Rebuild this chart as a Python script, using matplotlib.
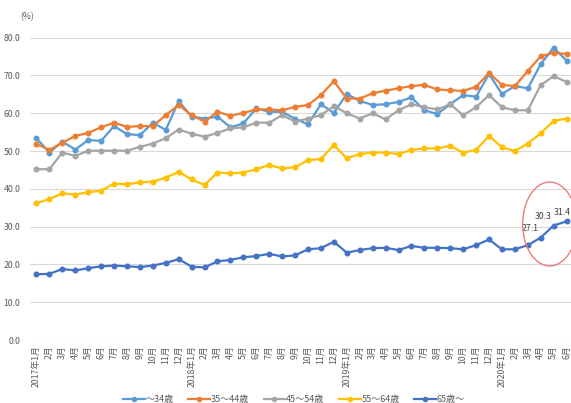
#!/usr/bin/env python3
# age-group rate chart, 2017/1 - 2020/6

import matplotlib
matplotlib.use("Agg")
import matplotlib.pyplot as plt
from matplotlib.patches import Ellipse

plt.rcParams['font.family'] = ['Noto Sans CJK JP', 'DejaVu Sans']

# months 2017年1月 .. 2020年6月
months = []
for i in range(42):
    y, m = 2017 + i // 12, i % 12 + 1
    months.append("{}年{}月".format(y, m) if m == 1 else "{}月".format(m))

names = ["～34歳", "35～44歳", "45～54歳", "55～64歳", "65歳～"]

age_u34 = [53.4, 49.6, 52.5, 50.4, 52.9, 52.7, 56.6, 54.5, 54.2, 57.5, 55.6, 63.2,
           59.1, 58.6, 59.1, 56.3, 57.3, 61.3, 60.4, 60.4, 58.5, 57.1, 62.4, 60.1,
           65.1, 63.3, 62.2, 62.4, 63.0, 64.2, 60.8, 59.8, 62.4, 64.8, 64.4, 70.4,
           65.1, 67.2, 66.6, 73.0, 77.4, 73.9]
age_35_44 = [51.9, 50.3, 52.2, 54.0, 54.8, 56.3, 57.5, 56.4, 56.6, 56.6, 59.5, 62.2,
             59.5, 57.8, 60.4, 59.3, 60.1, 61.0, 61.0, 60.8, 61.7, 62.2, 64.8, 68.5,
             63.9, 63.9, 65.3, 66.0, 66.6, 67.2, 67.5, 66.3, 66.1, 65.9, 67.0, 70.7,
             67.5, 67.2, 71.2, 75.1, 76.0, 75.7]
age_45_54 = [45.2, 45.2, 49.6, 48.7, 50.1, 50.1, 50.1, 50.1, 51.1, 52.0, 53.4, 55.7,
             54.6, 53.8, 54.8, 56.0, 56.3, 57.5, 57.5, 59.5, 57.8, 58.6, 59.5, 61.9,
             60.0, 58.6, 60.0, 58.4, 60.8, 62.4, 61.6, 61.0, 62.4, 59.5, 61.6, 64.8,
             61.6, 60.8, 60.8, 67.5, 69.8, 68.3]
age_55_64 = [36.2, 37.3, 38.8, 38.5, 39.1, 39.5, 41.4, 41.2, 41.7, 41.9, 43.0, 44.5,
             42.5, 41.0, 44.3, 44.1, 44.3, 45.2, 46.3, 45.4, 45.7, 47.6, 47.9, 51.6,
             48.1, 49.2, 49.6, 49.6, 49.2, 50.3, 50.7, 50.7, 51.4, 49.6, 50.3, 54.0,
             51.0, 50.0, 52.0, 54.7, 58.0, 58.6]
age_65p = [17.4, 17.5, 18.8, 18.4, 19.0, 19.5, 19.7, 19.5, 19.3, 19.7, 20.4, 21.4,
           19.4, 19.2, 20.8, 21.2, 21.9, 22.2, 22.8, 22.1, 22.4, 24.0, 24.3, 26.0,
           23.1, 23.8, 24.3, 24.4, 23.8, 24.9, 24.4, 24.4, 24.3, 24.0, 25.1, 26.6,
           24.0, 24.0, 25.1, 27.1, 30.3, 31.4]

colors = ["#5B9BD5", "#ED7D31", "#A5A5A5", "#FFC000", "#4472C4"]
series = [age_u34, age_35_44, age_45_54, age_55_64, age_65p]

fig = plt.figure(figsize=(5.71, 4.03), dpi=100)
ax = fig.add_axes([30 / 571, 63 / 403, 541 / 571, (340 - 37.7) / 403])

x = list(range(len(months)))
for vals, c, n in zip(series, colors, names):
    ax.plot(x, vals, color=c, lw=1.6, marker="o", ms=3.3, label=n,
            solid_joinstyle="round", zorder=3)

# labels on the last three 65歳～ points (last one kept inside the edge)
for i in range(39, 42):
    if i < 41:
        ax.text(x[i] - 0.15, age_65p[i] + 1.2, "{:.1f}".format(age_65p[i]),
                ha="right", va="bottom", fontsize=6.3, color="#404040", zorder=4)
    else:
        ax.annotate("{:.1f}".format(age_65p[i]), (x[i], age_65p[i] + 1.2),
                    xytext=(1.0, 0), textcoords=("axes fraction", "offset points"),
                    ha="right", va="bottom", fontsize=6.3, color="#404040",
                    zorder=4)

ax.add_patch(Ellipse((39.7, 30.7), 4.2, 22.2, fill=False, ec="#EE7B7B",
                     lw=1.0, zorder=5, clip_on=False))

ax.set_xlim(-0.5, -0.5 + 541 / 12.93)
ax.set_ylim(0, 80)
ax.set_yticks(range(0, 81, 10))
ax.set_yticklabels(["{:.1f}".format(v) for v in range(0, 81, 10)])
ax.set_xticks(x)
ax.set_xticklabels(months, rotation=90, va="top", ha="center")
ax.tick_params(axis="both", length=0, labelsize=6.3, labelcolor="#595959")
ax.tick_params(axis="y", pad=7)
ax.tick_params(axis="x", pad=4)
ax.grid(axis="y", color="#D9D9D9", lw=0.8)
ax.set_axisbelow(True)
for s in ax.spines.values():
    s.set_visible(False)

fig.text(20 / 571, 1 - 17 / 403, "(%)", fontsize=6.2, color="#595959",
         va="center")

fig.legend(loc="lower center", bbox_to_anchor=(0.515, -0.022), ncol=5,
           frameon=False, fontsize=6.5, labelcolor="#595959",
           handlelength=2.4, columnspacing=1.6, handletextpad=0.1,
           markerscale=0.9)

fig.savefig("out.png", dpi=100)
